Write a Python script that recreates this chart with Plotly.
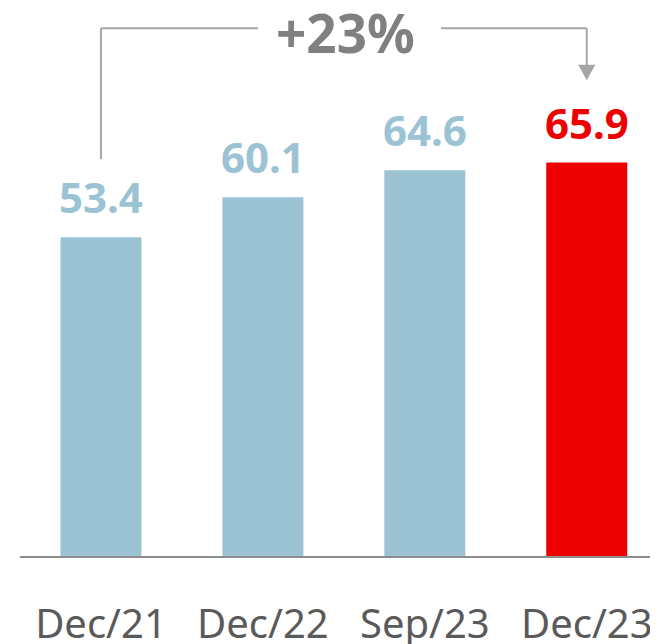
import plotly.graph_objects as go

categories = ["Dec/21", "Dec/22", "Sep/23", "Dec/23"]
values = [53.4, 60.1, 64.6, 65.9]
value_labels = ["53.4", "60.1", "64.6", "65.9"]
growth_label = "+23%"

BLUE = "#9BC3D4"
RED = "#EC0000"
colors = [BLUE, BLUE, BLUE, RED]
GRAY_LINE = "#A6A6A6"
FONT = "Noto Sans"

fig = go.Figure()
fig.add_trace(go.Bar(
    x=list(range(len(categories))), y=values, marker=dict(color=colors, line=dict(width=0)),
    width=0.5, hoverinfo="skip", showlegend=False,
))

# value labels
for i, (v, t) in enumerate(zip(values, value_labels)):
    fig.add_annotation(
        x=i, y=v, text=f"<b>{t}</b>", showarrow=False, yanchor="bottom", yshift=10,
        font=dict(family=FONT, size=42, color=colors[i]),
    )

# growth bracket
x0, x1 = 0, len(values) - 1
ytop = 88.4
yleft_bottom = 66.5
ytip = 79.7
xm = (x0 + x1) / 2
line = dict(color=GRAY_LINE, width=2)
fig.add_shape(type="line", x0=x0, x1=x0, y0=yleft_bottom, y1=ytop, line=line)
fig.add_shape(type="line", x0=x0, x1=xm - 0.53, y0=ytop, y1=ytop, line=line)
fig.add_shape(type="line", x0=xm + 0.6, x1=x1, y0=ytop, y1=ytop, line=line)
fig.add_shape(type="line", x0=x1, x1=x1, y0=ytop, y1=ytip + 2.5, line=line)
fig.add_shape(type="path",
              path=f"M {x1 - 0.053} {ytip + 2.6} L {x1 + 0.053} {ytip + 2.6} L {x1} {ytip} Z",
              fillcolor=GRAY_LINE, line=dict(width=0))
fig.add_annotation(
    x=xm + 0.013, y=ytop, text=f"<b>{growth_label}</b>", showarrow=False, yanchor="middle", yshift=-4,
    font=dict(family=FONT, size=53, color="#808080"),
)

fig.update_layout(
    width=650, height=636, margin=dict(l=12, r=0, t=0, b=88, autoexpand=False),
    plot_bgcolor="white", paper_bgcolor="white", bargap=0.5,
    xaxis=dict(
        range=[-0.5, 3.44], tickmode="array", tickvals=list(range(len(categories))),
        ticktext=categories, showgrid=False, zeroline=False, showline=True,
        linecolor="#8C8C8C", linewidth=2, ticks="", ticklabelstandoff=32, automargin=False,
        tickfont=dict(family=FONT, size=40, color="#5A5A5A"),
    ),
    yaxis=dict(range=[0, 91.8], visible=False, showgrid=False, zeroline=False),
)

fig.write_html("out.html")
